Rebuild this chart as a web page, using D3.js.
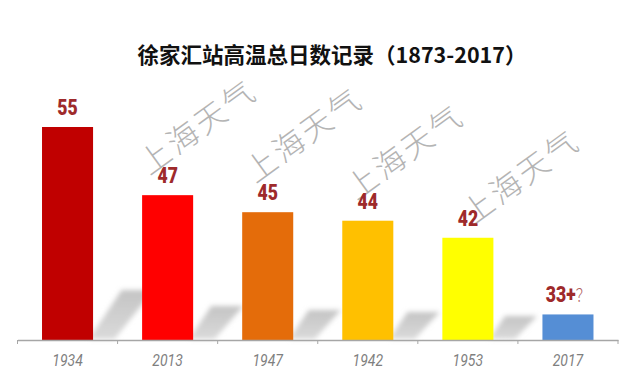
<!DOCTYPE html>
<html>
<head>
<meta charset="utf-8">
<script src="https://cdn.jsdelivr.net/npm/d3@7"></script>
<style>
  body { margin: 0; background: #fff; }
</style>
</head>
<body>
<div class="vis"></div>
<script>
const width = 640,
    height = 392,
    baseY = 340;

// data
const years = ["1934", "2013", "1947", "1942", "1953", "2017"];
const days = [55, 47, 45, 44, 42, 33];
const barColors = ["#c00000", "#ff0000", "#e46c0a", "#ffc000", "#ffff00", "#558ed5"];
const labels = ["55", "47", "45", "44", "42", "33+"];
const labelTails = ["", "", "", "", "", "？"];
const watermarkPos = [[198, 127], [304, 135], [405, 152], [521, 177]];

let svg = d3.select(".vis")
    .append("svg")
    .attr("width", width)
    .attr("height", height)
    .style("display", "block")

let x = d3.scaleBand()
    .domain(years)
    .range([17.5, 618])
    .paddingInner(0.49)
    .paddingOuter(0.245)

let y = d3.scaleLinear()
    .domain([30, 60])
    .range([baseY, baseY - 30 * 8.52])

/* shadow stuff */
let defs = svg.append("defs")
let grad = defs.append("linearGradient")
    .attr("id", "shadowGrad")
    .attr("x1", 0).attr("y1", 0).attr("x2", 0).attr("y2", 1)
grad.append("stop").attr("offset", "0%").attr("stop-color", "#c4c4c4")
grad.append("stop").attr("offset", "100%").attr("stop-color", "#dadada")
defs.append("filter")
    .attr("id", "soft")
    .attr("x", "-30%").attr("y", "-30%").attr("width", "160%").attr("height", "160%")
    .append("feGaussianBlur")
    .attr("stdDeviation", 2.4)

// title
svg.append("text")
    .attr("x", 332)
    .attr("y", 63)
    .text("徐家汇站高温总日数记录（1873-2017）")
    .style("font-family", "'Noto Sans CJK SC', sans-serif")
    .style("font-weight", "bold")
    .style("font-size", "21.5px")
    .style("fill", "#111")
    .style("text-anchor", "middle")

// floor shadows
svg.append("g").selectAll("polygon")
    .data(years)
    .join("polygon")
    .attr("points", (d, i) => {
        let xr = x(d) + x.bandwidth() - 4,
            h = 0.235 * (baseY - y(days[i])),
            dx = 0.65 * h,
            w = 32;
        return [[xr, baseY - 1], [xr + dx, baseY - h], [xr + dx + w, baseY - h], [xr + w * 0.8, baseY - 1]]
            .map(p => p.join(",")).join(" ")
    })
    .style("fill", "url(#shadowGrad)")
    .style("opacity", (d, i) => i == years.length - 1 ? 0 : 1)
    .attr("filter", "url(#soft)")

// watermarks
svg.append("g").selectAll("text")
    .data(watermarkPos)
    .join("text")
    .attr("transform", d => "translate(" + d[0] + "," + d[1] + ") rotate(-36)")
    .attr("dy", "0.35em")
    .text("上海天气")
    .style("font-family", "'Noto Sans CJK SC', sans-serif")
    .style("font-weight", "300")
    .style("font-size", "31px")
    .style("letter-spacing", "3px")
    .style("fill", "#b4b4b4")
    .style("text-anchor", "middle")

// bars
svg.append("g").selectAll("rect")
    .data(years)
    .join("rect")
    .attr("x", d => x(d))
    .attr("y", (d, i) => y(days[i]))
    .attr("width", x.bandwidth())
    .attr("height", (d, i) => baseY - y(days[i]))
    .style("fill", (d, i) => barColors[i])

// value labels (squeezed to look like a condensed face)
let lab = svg.append("g").selectAll("text")
    .data(years)
    .join("text")
    .attr("transform", (d, i) => "translate(" + (x(d) + x.bandwidth() / 2) + "," + (y(days[i]) - 12) + ") scale(0.8,1)")
    .style("text-anchor", "middle")
    .style("fill", "#9e2a2b")
lab.append("tspan")
    .text((d, i) => labels[i])
    .style("font-family", "Roboto, sans-serif")
    .style("font-weight", "900")
    .style("font-size", "22px")
lab.append("tspan")
    .text((d, i) => labelTails[i])
    .style("font-family", "'Noto Sans CJK SC', sans-serif")
    .style("font-size", "18px")
    .style("font-weight", "300")
    .style("fill", "#b06060")

// x axis
let xAxis = d3.axisBottom(x)
    .tickSize(0)
    .tickPadding(14)
let axisG = svg.append("g")
    .attr("transform", "translate(0," + baseY + ")")
    .call(xAxis)
axisG.select(".domain")
    .attr("stroke", "#a6a6a6")
    .attr("stroke-width", 1.5)
axisG.selectAll("text")
    .attr("transform", "scale(0.85,1)")
    .style("font-family", "Roboto, sans-serif")
    .style("font-style", "italic")
    .style("font-size", "16.5px")
    .style("fill", "#7f7f7f")

// boundary ticks between categories
let bounds = years.map(d => x(d) - x.step() * x.paddingInner() / 2)
bounds.push(x.range()[1])
axisG.selectAll(".bound")
    .data(bounds)
    .join("line")
    .attr("class", "bound")
    .attr("x1", d => d).attr("x2", d => d)
    .attr("y1", 0).attr("y2", 4)
    .attr("stroke", "#a6a6a6")
    .attr("stroke-width", 1)
</script>
</body>
</html>
